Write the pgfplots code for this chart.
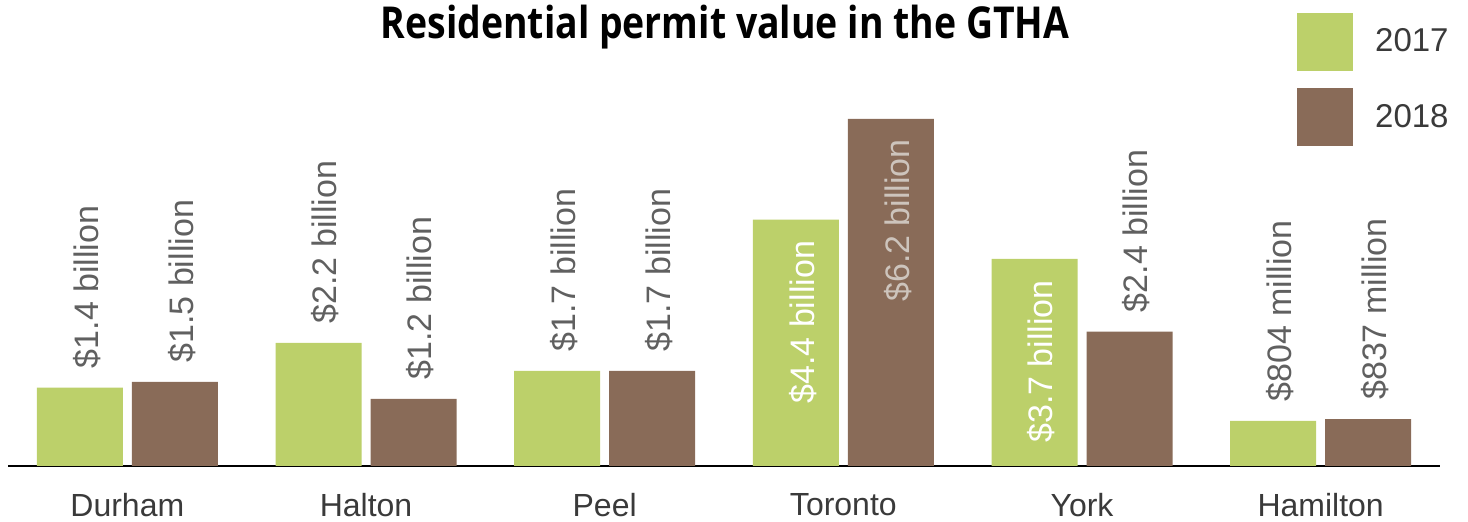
\documentclass[border=0pt]{standalone}
\usepackage{fontspec}
\setmainfont{Liberation Sans}
\newfontfamily\titlefont[FakeStretch=0.85]{Open Sans}
\usepackage{pgfplots}
\pgfplotsset{compat=1.18}
\usepackage{pgfplotstable}

\definecolor{g17}{RGB}{188,208,106}
\definecolor{b18}{RGB}{137,107,88}
\definecolor{lab}{RGB}{96,96,96}
\definecolor{labin}{RGB}{205,196,188}
\definecolor{catlab}{RGB}{58,58,58}

% inside = 1 puts the label inside the bar, off = shift in pt
\pgfplotstableread{
x y lab inside off
0 1.4   {\$1.4 billion} 0 9.5
1 2.2   {\$2.2 billion} 0 9.5
2 1.7   {\$1.7 billion} 0 9.5
3 4.4   {\color{white}\$4.4 billion} 1 -10.5
4 3.7   {\color{white}\$3.7 billion} 1 -10.5
5 0.804 {\$804 million} 0 9.5
}\tA
\pgfplotstableread{
x y lab inside off
0 1.5   {\$1.5 billion} 0 9.5
1 1.2   {\$1.2 billion} 0 9.5
2 1.7   {\$1.7 billion} 0 9.5
3 6.2   {\color{labin}\$6.2 billion} 1 -10
4 2.4   {\$2.4 billion} 0 9.5
5 0.837 {\$837 million} 0 9.5
}\tB

\begin{document}
\begin{tikzpicture}
\useasboundingbox (0,0) rectangle (734pt,261pt);
\begin{axis}[
  at={(4pt,28pt)}, anchor=south west,
  scale only axis, width=716pt, height=233pt,
  ybar=4.5pt, bar width=43pt,
  xmin=-0.5, xmax=5.5, ymin=0, ymax=8.321,
  axis x line=bottom, axis y line=none,
  axis line style={-, line width=1.3pt, black},
  xtick={0,...,5},
  xticklabels={Durham,Halton,Peel,Toronto,York,Hamilton},
  major tick length=0pt,
  xticklabel style={inner sep=0pt, yshift=-13.5pt, font=\fontsize{16}{18}\selectfont, text=catlab},
  clip=false,
  point meta=explicit symbolic,
  nodes near coords,
  visualization depends on={\thisrow{inside} \as \myin},
  visualization depends on={\thisrow{off} \as \myoff},
  every node near coord/.append style={font=\fontsize{17}{19}\selectfont, inner sep=0pt,
    text=lab, xshift=3.5pt, yshift=\myoff pt, rotate=90,
    /utils/exec={\ifdim\myin pt>0.5pt \def\myanc{east}\else\def\myanc{west}\fi},
    anchor=\myanc},
  legend style={at={(0.900,0.974)}, anchor=north west, draw=none, fill=none,
    inner sep=0pt, row sep=8.75pt, font=\fontsize{16.5}{18}\selectfont, text=catlab,
    nodes={inner sep=0pt}},
]
\addplot[fill=g17, draw=none,
  legend image code/.code={\fill[g17] (0pt,-14.5pt) rectangle (28pt,14.5pt); \path (39pt,0pt);}]
  table[x=x, y=y, meta=lab] {\tA};
\addlegendentry{2017}
\addplot[fill=b18, draw=none,
  legend image code/.code={\fill[b18] (0pt,-14.5pt) rectangle (28pt,14.5pt); \path (39pt,0pt);}]
  table[x=x, y=y, meta=lab] {\tB};
\addlegendentry{2018}
\end{axis}
\node[anchor=base, font=\titlefont\bfseries\fontsize{22}{24}\selectfont] at (362.5pt,241.5pt)
  {Residential permit value in the GTHA};
\end{tikzpicture}
\end{document}
